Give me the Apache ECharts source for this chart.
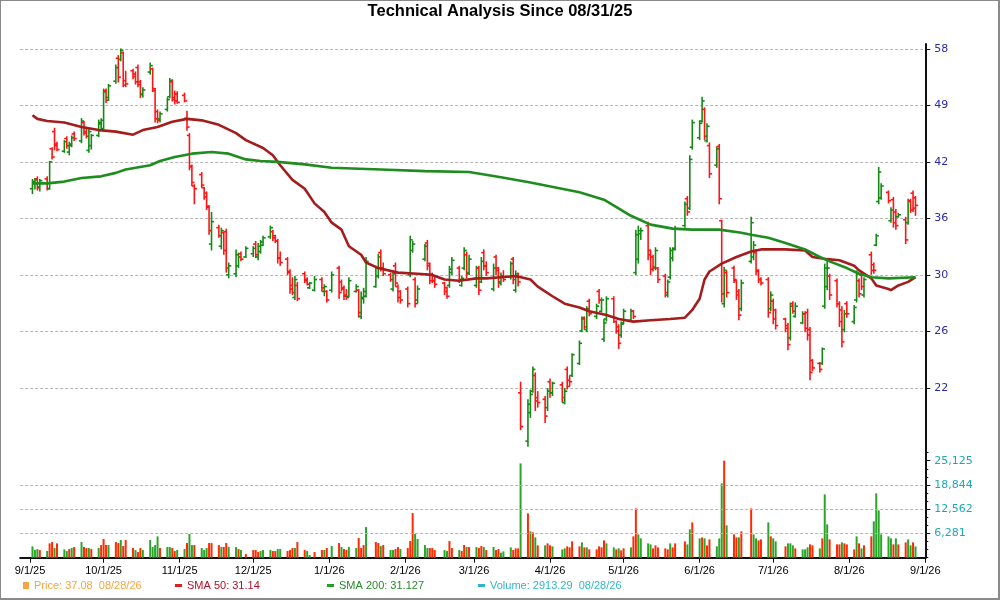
<!DOCTYPE html>
<html><head><meta charset="utf-8">
<script src="https://cdn.jsdelivr.net/npm/echarts@6/dist/echarts.min.js"></script>
<style>html,body{margin:0;padding:0;background:#fff}#c{width:1000px;height:600px}</style>
</head><body><div id="c"></div>
<script>
// ---------- data ----------
const dates = [
'2025-09-02','2025-09-03','2025-09-04','2025-09-05','2025-09-08','2025-09-09','2025-09-10','2025-09-11','2025-09-12','2025-09-15','2025-09-16','2025-09-17','2025-09-18','2025-09-19','2025-09-22','2025-09-23','2025-09-24','2025-09-25','2025-09-26','2025-09-29','2025-09-30',
'2025-10-01','2025-10-02','2025-10-03','2025-10-06','2025-10-07','2025-10-08','2025-10-09','2025-10-10','2025-10-13','2025-10-14','2025-10-15','2025-10-16','2025-10-17','2025-10-20','2025-10-21','2025-10-22','2025-10-23','2025-10-24','2025-10-27','2025-10-28','2025-10-29','2025-10-30','2025-10-31',
'2025-11-03','2025-11-04','2025-11-05','2025-11-06','2025-11-07','2025-11-10','2025-11-11','2025-11-12','2025-11-13','2025-11-14','2025-11-17','2025-11-18','2025-11-19','2025-11-20','2025-11-21','2025-11-24','2025-11-25','2025-11-26','2025-11-28',
'2025-12-01','2025-12-02','2025-12-03','2025-12-04','2025-12-05','2025-12-08','2025-12-09','2025-12-10','2025-12-11','2025-12-12','2025-12-15','2025-12-16','2025-12-17','2025-12-18','2025-12-19','2025-12-22','2025-12-23','2025-12-24','2025-12-26','2025-12-29','2025-12-30','2025-12-31',
'2026-01-02','2026-01-05','2026-01-06','2026-01-07','2026-01-08','2026-01-09','2026-01-12','2026-01-13','2026-01-14','2026-01-15','2026-01-16','2026-01-20','2026-01-21','2026-01-22','2026-01-23','2026-01-26','2026-01-27','2026-01-28','2026-01-29','2026-01-30',
'2026-02-02','2026-02-03','2026-02-04','2026-02-05','2026-02-06','2026-02-09','2026-02-10','2026-02-11','2026-02-12','2026-02-13','2026-02-17','2026-02-18','2026-02-19','2026-02-20','2026-02-23','2026-02-24','2026-02-25','2026-02-26','2026-02-27',
'2026-03-02','2026-03-03','2026-03-04','2026-03-05','2026-03-06','2026-03-09','2026-03-10','2026-03-11','2026-03-12','2026-03-13','2026-03-16','2026-03-17','2026-03-18','2026-03-19','2026-03-20','2026-03-23','2026-03-24','2026-03-25','2026-03-26','2026-03-27','2026-03-30','2026-03-31',
'2026-04-01','2026-04-02','2026-04-06','2026-04-07','2026-04-08','2026-04-09','2026-04-10','2026-04-13','2026-04-14','2026-04-15','2026-04-16','2026-04-17','2026-04-20','2026-04-21','2026-04-22','2026-04-23','2026-04-24','2026-04-27','2026-04-28','2026-04-29','2026-04-30',
'2026-05-01','2026-05-04','2026-05-05','2026-05-06','2026-05-07','2026-05-08','2026-05-11','2026-05-12','2026-05-13','2026-05-14','2026-05-15','2026-05-18','2026-05-19','2026-05-20','2026-05-21','2026-05-22','2026-05-26','2026-05-27','2026-05-28','2026-05-29',
'2026-06-01','2026-06-02','2026-06-03','2026-06-04','2026-06-05','2026-06-08','2026-06-09','2026-06-10','2026-06-11','2026-06-12','2026-06-15','2026-06-16','2026-06-17','2026-06-18','2026-06-22','2026-06-23','2026-06-24','2026-06-25','2026-06-26','2026-06-29','2026-06-30',
'2026-07-01','2026-07-02','2026-07-06','2026-07-07','2026-07-08','2026-07-09','2026-07-10','2026-07-13','2026-07-14','2026-07-15','2026-07-16','2026-07-17','2026-07-20','2026-07-21','2026-07-22','2026-07-23','2026-07-24','2026-07-27','2026-07-28','2026-07-29','2026-07-30','2026-07-31',
'2026-08-03','2026-08-04','2026-08-05','2026-08-06','2026-08-07','2026-08-10','2026-08-11','2026-08-12','2026-08-13','2026-08-14','2026-08-17','2026-08-18','2026-08-19','2026-08-20','2026-08-21','2026-08-24','2026-08-25','2026-08-26','2026-08-27','2026-08-28'
];

// [open, high, low, close]
const ohlc = [
[38.9,40.0,38.3,39.7],[39.5,40.1,38.8,39.9],[40.0,40.3,38.7,39.0],[39.1,40.0,38.6,39.8],[40.0,40.3,38.7,38.9],[38.9,42.1,38.8,42.0],[43.6,43.8,42.3,42.6],[45.8,46.3,43.4,44.0],[44.2,44.5,43.3,43.5],[43.3,44.7,43.1,44.5],[44.9,45.2,43.6,44.0],[43.2,44.5,42.8,44.2],[44.0,45.3,43.8,45.0],[45.5,45.8,44.6,44.9],[44.6,47.6,44.3,47.2],[47.0,47.2,45.3,45.6],[45.8,46.2,44.9,45.2],[43.4,46.2,43.1,45.8],[44.0,45.5,43.5,45.3],[45.3,47.4,45.1,47.0],[46.8,47.6,46.0,47.3],
[46.2,51.8,45.9,51.3],[51.5,51.8,49.7,50.1],[50.5,52.5,50.0,52.2],[52.9,55.5,52.5,55.0],[56.5,57.0,52.7,53.5],[56.3,58.1,56.0,57.8],[57.4,57.6,52.0,52.3],[53.0,54.5,52.0,52.5],[54.5,54.8,53.2,53.6],[54.0,54.4,52.4,52.8],[55.0,55.5,52.0,52.4],[52.8,53.1,50.4,50.9],[51.0,52.0,50.5,51.6],[54.3,55.8,53.9,55.3],[54.8,55.0,51.3,51.8],[51.5,51.9,47.0,47.5],[48.5,48.8,46.9,47.3],[47.5,48.5,47.0,48.2],[48.8,50.5,48.5,50.2],[50.6,53.4,50.4,53.0],[52.8,53.2,49.9,50.2],[50.5,51.5,49.5,50.0],[51.0,51.4,49.6,49.8],
[50.8,51.2,49.8,50.0],[47.6,48.6,45.9,46.4],[45.3,45.6,41.0,41.5],[41.4,41.7,39.2,39.6],[39.2,39.4,37.2,38.9],[40.5,40.8,39.0,39.3],[39.0,39.1,37.7,38.0],[38.4,38.6,36.6,37.0],[36.9,37.1,34.1,34.5],[33.2,36.4,32.6,35.4],[34.8,35.1,33.8,34.0],[33.0,34.8,32.7,34.5],[34.3,34.4,32.2,32.6],[34.4,34.7,30.6,31.0],[30.4,31.5,30.1,31.2],[30.5,32.7,30.2,32.2],[31.2,32.4,31.0,32.0],[32.3,32.5,31.6,31.8],[32.0,33.0,31.9,32.8],
[32.3,33.0,32.0,32.8],[33.2,33.5,31.9,32.2],[32.0,33.3,31.7,33.0],[32.5,33.6,32.3,33.4],[33.1,34.0,33.0,33.8],[33.9,35.0,33.7,34.8],[34.4,34.6,33.5,33.8],[34.0,34.1,33.3,33.5],[33.5,33.7,31.4,31.9],[31.9,32.5,31.2,31.5],[31.8,32.0,30.4,30.6],[30.7,30.9,28.8,29.2],[29.5,30.2,28.7,28.9],[28.5,30.3,28.3,30.0],[29.5,29.8,28.2,28.4],[30.5,30.7,29.7,29.9],[30.0,30.2,29.5,29.6],[29.3,29.8,29.2,29.7],[29.1,30.3,29.0,30.0],[30.0,30.2,29.0,29.3],[29.0,29.6,28.6,29.4],[29.0,29.1,28.1,28.3],
[29.1,30.7,28.9,30.4],[31.0,31.2,28.4,28.9],[29.8,30.0,29.0,29.2],[29.3,29.5,28.3,28.6],[28.7,29.2,28.3,28.5],[28.6,30.2,28.5,29.9],[29.0,29.6,28.9,29.4],[29.1,29.2,26.9,27.3],[27.0,29.0,26.8,28.5],[28.4,29.3,28.0,29.0],[28.6,32.0,28.5,31.6],[29.4,31.2,29.3,31.0],[30.3,32.3,30.1,32.0],[32.4,32.7,30.7,31.0],[31.0,31.5,30.3,30.5],[30.4,30.6,29.8,30.0],[29.2,30.8,29.0,30.5],[31.2,31.5,29.4,29.7],[29.4,29.6,28.1,28.5],[29.0,29.1,28.0,28.3],
[29.2,29.4,27.7,28.0],[30.4,34.0,30.2,33.6],[32.6,33.5,32.4,33.2],[30.0,30.2,27.7,28.0],[28.3,29.5,28.0,29.2],[31.8,33.2,31.6,33.0],[33.3,33.6,30.8,31.2],[31.4,31.5,29.6,29.9],[30.4,30.6,29.7,29.9],[29.9,30.3,29.3,29.6],[29.7,29.8,28.7,29.0],[29.3,29.4,28.4,28.6],[29.5,31.2,29.3,30.9],[30.6,32.0,30.4,31.7],[31.0,31.2,29.7,30.0],[29.5,30.3,29.4,30.1],[31.0,32.9,30.8,32.6],[32.2,32.5,30.1,30.5],[30.6,32.2,30.4,31.8],
[29.5,31.2,29.3,31.0],[31.0,31.2,28.7,29.1],[29.8,32.0,29.7,31.6],[32.4,32.7,30.8,31.2],[31.2,31.6,30.3,30.6],[29.2,31.4,29.0,31.0],[32.0,32.2,30.4,30.8],[31.0,31.1,29.3,29.7],[29.8,30.6,29.5,30.3],[30.3,30.8,29.8,30.0],[30.2,31.6,30.0,31.4],[31.8,32.0,29.6,30.0],[29.1,30.8,28.9,30.5],[30.2,30.6,29.4,29.8],[21.7,22.4,19.5,19.7],[18.9,21.3,18.6,21.0],[20.5,21.9,20.2,21.6],[21.8,23.4,21.7,23.2],[22.8,23.0,20.6,21.2],[21.4,21.8,20.8,21.1],[21.3,21.5,19.9,20.3],[20.8,22.0,20.6,21.8],
[22.4,22.6,21.4,21.7],[21.7,22.4,21.5,22.3],[22.2,22.4,21.1,21.4],[21.1,22.0,21.0,21.8],[23.2,23.4,21.9,22.1],[22.5,22.8,22.1,22.4],[22.8,24.3,22.7,24.2],[23.6,25.2,23.5,25.0],[25.9,27.0,25.8,26.8],[26.9,27.0,26.0,26.2],[26.0,27.8,25.8,27.6],[28.2,28.4,27.0,27.2],[27.0,28.0,26.8,27.8],[29.0,29.2,28.0,28.3],[27.4,28.5,27.3,28.3],[25.3,26.8,25.1,26.5],[26.8,28.6,26.6,28.4],[28.4,28.6,26.5,26.9],[26.6,26.7,25.7,25.9],[26.2,26.4,24.6,25.0],[25.6,26.6,25.4,26.4],
[26.5,27.6,26.4,27.4],[26.7,27.6,26.6,27.4],[27.4,27.5,26.8,27.0],[30.6,34.6,30.4,34.1],[31.8,35.0,31.4,34.5],[34.2,34.8,33.6,34.5],[35.0,35.4,31.7,32.2],[32.6,32.7,30.4,30.9],[32.0,32.2,30.7,31.1],[31.0,32.9,30.8,32.6],[31.0,31.1,29.7,30.0],[30.3,30.5,28.5,28.9],[28.7,30.0,28.5,29.8],[30.2,32.9,30.0,32.6],[31.9,32.9,31.6,32.7],[32.8,35.0,32.6,34.7],[35.0,37.5,34.8,37.2],[37.8,38.1,36.0,36.4],[36.8,42.8,36.6,42.3],[43.8,47.4,43.5,47.0],
[45.0,47.3,44.7,46.9],[47.2,50.6,47.0,50.0],[48.8,49.1,44.7,45.2],[44.6,46.9,44.4,46.5],[44.0,44.4,40.1,40.6],[41.6,43.9,41.3,43.6],[43.9,44.2,37.2,37.8],[35.5,35.6,28.1,28.8],[28.0,31.1,27.7,30.8],[30.6,30.8,28.5,28.9],[31.0,31.2,29.7,30.0],[29.9,30.0,28.3,28.7],[29.0,29.2,26.7,27.1],[27.6,30.0,27.4,29.7],[31.6,35.9,31.4,35.3],[32.0,33.5,31.7,33.1],[32.4,32.7,30.4,30.8],[30.7,30.9,29.7,30.0],[30.0,30.2,29.5,29.7],[30.0,30.2,26.9,27.3],[27.6,29.0,27.4,28.7],
[28.2,28.4,26.4,26.8],[27.5,27.6,26.0,26.3],[26.8,26.9,25.8,26.1],[26.3,26.5,24.5,24.9],[25.4,28.1,25.2,27.8],[28.0,28.2,27.2,27.4],[27.0,28.1,26.9,27.8],[26.5,27.4,26.4,27.2],[27.2,27.4,25.8,26.1],[27.3,27.6,25.2,25.6],[26.0,26.2,22.5,23.0],[23.8,23.9,23.1,23.3],[23.6,23.7,23.0,23.2],[23.6,24.7,23.5,24.6],[27.8,31.4,27.6,31.0],[29.4,31.6,29.1,31.0],[30.3,30.5,28.3,28.7],[29.9,30.1,27.7,28.0],[28.0,28.2,26.2,26.6],[27.5,27.8,24.7,25.1],[26.0,27.5,25.8,27.2],[28.0,28.2,26.9,27.2],
[26.6,27.9,26.4,27.7],[28.3,30.8,28.1,30.5],[29.9,30.1,28.5,28.8],[30.4,30.7,29.1,29.4],[28.7,30.2,28.5,30.0],[32.2,32.5,30.4,30.8],[31.3,31.5,30.5,30.8],[33.1,34.2,33.0,34.0],[37.5,41.4,37.2,40.8],[37.9,39.5,37.7,39.2],[38.5,38.7,37.3,37.6],[35.5,36.9,35.3,36.6],[37.7,38.0,34.8,35.3],[36.4,36.7,34.6,35.0],[35.9,36.3,35.8,36.1],[35.6,35.9,33.2,33.6],[35.3,37.8,35.1,37.5],[37.6,37.8,36.3,36.6],[38.4,38.7,36.4,36.8],[37.9,38.1,36.0,37.08]
];

const volumes = [
2935,1985,2244,1985,1726,3711,4056,2503,3711,2158,1726,2244,2503,2762,4056,2762,2503,2503,2244,2503,3280,
4834,3280,3280,4056,3797,4575,3020,4575,2503,1985,1467,2503,1985,4575,2762,3280,5525,2503,2762,2762,2503,1726,1985,
2244,3797,6129,3280,3280,2503,1985,2503,3797,3797,3280,2762,2762,3797,2762,2762,2244,1985,949,
1985,1985,1467,1726,1985,1985,1726,1726,2244,2244,1726,1985,2503,2503,4056,1985,1726,690,1467,1985,1985,2503,
3020,3797,2762,2244,1985,2762,2503,5092,2503,3280,7940,4056,3797,3020,3280,1985,1985,2244,2762,2244,
2503,4315,11565,6129,4834,3280,2503,2503,2503,1985,1985,1726,4315,2503,1985,1726,3280,2762,2762,
2762,2503,3020,2762,1985,2762,1985,2244,1295,1640,2675,1985,2416,2416,24423,11478,6818,6559,5264,3193,3193,3711,
3193,2934,2158,2416,2934,2675,4229,2934,3970,2675,2675,2158,2158,2934,2675,4488,3711,2675,2158,2416,1899,
2416,2675,5523,12772,6041,5005,3711,3452,2416,3193,2675,2416,2158,3711,2675,3711,4229,3452,7336,9148,
5005,5264,5005,3193,4746,2934,5005,19245,25125,8371,6041,5264,5264,6818,12772,6041,5005,4488,4746,9148,5523,
5005,4229,2934,3711,3711,3193,2416,2158,2158,2675,3452,3193,2416,5005,16397,8630,4746,3452,3452,3970,3711,3452,
2158,5523,3711,2416,3193,5523,9407,16656,12255,6041,5523,5005,3452,5005,3452,3970,4746,3193,3970,2913
];

// g = up-volume bar, r = down-volume bar (one char per trading day, one string per month)
const volumeDirection = [
'gggrgrrgrggrgrgrrgrgr',
'rrgrrgrrrgrrgggggrggrrg',
'grggrgggrrrgrrggrgr',
'rrrgggrrggrrrgrrggrrgr',
'grgrrggrrrgrrgrggrrg',
'rrrggggrrrggrrgrrgr',
'grrgrgrrgggrrrgrgrgrgr',
'rgggrrrrgrgrrrrrggrgr',
'rgrrggggrrrrrgrrrggr',
'grgrrgggrgrrgrrggrrgr',
'ggrgggrgggrrgrggrrrgrr',
'rgrgrrggggggrgrrggrg'
].join('');

const sma50 = [
['2025-09-02',48.0],['2025-09-04',47.5],['2025-09-08',47.2],['2025-09-15',47.0],['2025-09-22',46.4],['2025-09-29',46.0],['2025-10-06',45.8],['2025-10-13',45.4],['2025-10-17',46.0],['2025-10-23',46.4],['2025-10-29',47.1],['2025-11-04',47.5],['2025-11-10',47.3],['2025-11-17',46.7],['2025-11-24',45.6],['2025-11-28',44.7],['2025-12-05',43.7],['2025-12-09',42.8],['2025-12-12',41.6],['2025-12-17',39.9],['2025-12-22',38.9],['2025-12-26',37.3],['2025-12-30',36.4],['2026-01-02',35.3],['2026-01-06',34.6],['2026-01-09',33.0],['2026-01-14',32.2],['2026-01-16',31.5],['2026-01-21',31.0],['2026-01-29',30.6],['2026-02-06',30.5],['2026-02-12',30.4],['2026-02-17',30.0],['2026-02-23',29.9],['2026-03-02',30.1],['2026-03-06',30.1],['2026-03-12',30.2],['2026-03-18',30.3],['2026-03-24',30.0],['2026-03-27',29.4],['2026-04-02',28.6],['2026-04-07',28.0],['2026-04-13',27.7],['2026-04-17',27.4],['2026-04-24',27.1],['2026-04-29',26.8],['2026-05-05',26.6],['2026-05-12',26.7],['2026-05-20',26.8],['2026-05-26',26.9],['2026-05-29',27.5],['2026-06-01',28.4],['2026-06-03',30.0],['2026-06-05',30.7],['2026-06-10',31.4],['2026-06-16',32.0],['2026-06-22',32.5],['2026-06-26',32.7],['2026-07-06',32.7],['2026-07-14',32.6],['2026-07-17',32.0],['2026-07-23',31.8],['2026-07-28',31.7],['2026-08-03',31.2],['2026-08-05',30.8],['2026-08-10',30.1],['2026-08-12',29.5],['2026-08-17',29.2],['2026-08-18',29.1],['2026-08-21',29.5],['2026-08-25',29.8],['2026-08-28',30.2]
];

const sma200 = [
['2025-09-02',39.5],['2025-09-08',39.5],['2025-09-15',39.7],['2025-09-22',40.1],['2025-09-30',40.3],['2025-10-06',40.7],['2025-10-10',41.1],['2025-10-20',41.6],['2025-10-24',42.1],['2025-10-30',42.6],['2025-11-06',43.0],['2025-11-14',43.2],['2025-11-21',43.0],['2025-11-28',42.3],['2025-12-04',42.1],['2025-12-11',42.0],['2025-12-22',41.7],['2026-01-02',41.3],['2026-01-22',41.1],['2026-02-09',40.9],['2026-02-27',40.8],['2026-03-12',40.2],['2026-03-24',39.6],['2026-04-13',38.5],['2026-04-23',37.7],['2026-05-04',36.0],['2026-05-12',35.1],['2026-05-21',34.7],['2026-05-29',34.6],['2026-06-09',34.6],['2026-06-18',34.3],['2026-06-22',34.1],['2026-06-29',33.8],['2026-07-06',33.3],['2026-07-10',33.0],['2026-07-14',32.7],['2026-07-20',32.0],['2026-07-24',31.6],['2026-07-31',31.0],['2026-08-05',30.5],['2026-08-10',30.2],['2026-08-17',30.1],['2026-08-28',30.2]
];

const priceTicks = [22, 25.86, 30.39, 35.72, 41.99, 49.35, 58];
const volumeTicks = [6281, 12562, 18844, 25125];
const monthTicks = ['2025-09-01','2025-10-01','2025-11-01','2025-12-01','2026-01-01','2026-02-01','2026-03-01','2026-04-01','2026-05-01','2026-06-01','2026-07-01','2026-08-01','2026-09-01'];
const legendNames = ['Price: 37.08  08/28/26', 'SMA 50: 31.14', 'SMA 200: 31.127', 'Volume: 2913.29  08/28/26'];

// ---------- chart ----------
function toTime(s) { const p = s.split('-').map(Number); return Date.UTC(p[0], p[1] - 1, p[2]); }
const xMin = toTime('2025-08-28'), xMax = toTime('2026-09-01');
const UP = '#148a14', DOWN = '#ff1414', VUP = '#2aa52a', VDOWN = '#ff2a00';
const n = Math.min(dates.length, ohlc.length);
const priceData = [];
for (let i = 0; i < n; i++) priceData.push([toTime(dates[i])].concat(ohlc[i]));
const volData = [];
for (let i = 0; i < Math.min(dates.length, volumes.length); i++) {
  volData.push({ value: [toTime(dates[i]), volumes[i]], itemStyle: { color: volumeDirection[i] === 'g' ? VUP : VDOWN } });
}
const monthTimes = monthTicks.map(toTime);
const grid = '#b4b4b4';
const chart = echarts.init(document.getElementById('c'), null, { renderer: 'canvas' });
function legendOf(i, left, color, iconColor, w, h) {
  return { data: [{ name: legendNames[i], icon: 'rect', itemStyle: { color: iconColor } }], left: left, top: 580, padding: 0,
    itemWidth: w, itemHeight: h, selectedMode: false,
    textStyle: { color: color, fontFamily: 'Liberation Sans', fontSize: 11 } };
}
chart.setOption({
  animation: false,
  backgroundColor: '#fff',
  title: { text: 'Technical Analysis Since 08/31/25', left: 'center', top: 3, padding: 0,
    textStyle: { fontFamily: 'Liberation Sans', fontWeight: 'bold', fontSize: 16.5, color: '#000' } },
  graphic: [{ type: 'rect', shape: { x: 0, y: 0, width: 999, height: 599 }, style: { fill: 'none', stroke: '#8a8a8a', lineWidth: 2 }, silent: true, z: 100 }],
  legend: [
    legendOf(0, 23, '#f5a542', '#f5a542', 6, 7),
    legendOf(1, 175, '#b0102a', '#e02020', 7, 3),
    legendOf(2, 327, '#2a8a2a', '#22a022', 7, 3),
    legendOf(3, 478, '#30b4c8', '#30b4c8', 7, 3)
  ],
  grid: [
    { left: 20.2, right: 74.7, top: 44, height: 408 },
    { left: 20.2, right: 74.7, top: 452, height: 105.7 }
  ],
  xAxis: [
    { type: 'value', gridIndex: 0, min: xMin, max: xMax, show: false, splitLine: { show: false } },
    { type: 'value', gridIndex: 1, min: xMin, max: xMax,
      axisLine: { show: true, onZero: false, lineStyle: { color: '#111', width: 2 } },
      axisTick: { show: true, customValues: monthTimes, length: 5, lineStyle: { color: '#111', width: 1 } },
      axisLabel: { show: true, customValues: monthTimes, margin: 8, color: '#000', fontFamily: 'Liberation Sans', fontSize: 11,
        formatter: function (v) { const d = new Date(v); return (d.getUTCMonth() + 1) + '/' + d.getUTCDate() + '/' + String(d.getUTCFullYear()).slice(2); } },
      splitLine: { show: false } }
  ],
  yAxis: [
    { type: 'log', gridIndex: 0, position: 'right', min: 18.32, max: 58.84,
      axisLine: { show: true, onZero: false, lineStyle: { color: '#111', width: 2 } },
      axisTick: { show: true, customValues: priceTicks, length: 5, lineStyle: { color: '#111' } },
      axisLabel: { show: true, customValues: priceTicks, margin: 9, color: '#2a2aaa', fontFamily: 'DejaVu Sans', fontSize: 11,
        formatter: function (v) { return String(Math.round(v)); } },
      splitLine: { show: true, lineStyle: { color: grid, width: 1, type: [3, 2] } },
      minorTick: { show: false }, minorSplitLine: { show: false } },
    { type: 'value', gridIndex: 1, position: 'right', min: 0, max: 27378,
      axisLine: { show: true, onZero: false, lineStyle: { color: '#111', width: 2 } },
      axisTick: { show: true, customValues: volumeTicks, length: 5, lineStyle: { color: '#111' } },
      axisLabel: { show: true, customValues: volumeTicks, margin: 9, color: '#1ea8b8', fontFamily: 'DejaVu Sans', fontSize: 11,
        formatter: function (v) { return Math.round(v).toLocaleString('en-US'); } },
      splitLine: { show: false } },
    { type: 'value', gridIndex: 1, position: 'right', min: 0, max: 27378, interval: 2093.75,
      axisLine: { show: false }, axisTick: { show: true, length: 3, lineStyle: { color: '#111' } },
      axisLabel: { show: false }, splitLine: { show: false } }
  ],
  series: [
    { type: 'custom', name: legendNames[0], xAxisIndex: 0, yAxisIndex: 0, data: priceData,
      encode: { x: 0, y: [1, 2, 3, 4] }, itemStyle: { color: '#f5a542' }, z: 3,
      renderItem: function (params, api) {
        const t = api.value(0), o = api.value(1), h = api.value(2), l = api.value(3), c = api.value(4);
        const pH = api.coord([t, h]), pL = api.coord([t, l]), pO = api.coord([t, o]), pC = api.coord([t, c]);
        const x = pH[0];
        const col = c >= o ? UP : DOWN;
        const st = { stroke: col, lineWidth: 1.6 };
        return { type: 'group', children: [
          { type: 'line', shape: { x1: x, y1: pH[1], x2: x, y2: pL[1] }, style: st },
          { type: 'line', shape: { x1: x - 2.6, y1: pO[1], x2: x, y2: pO[1] }, style: st },
          { type: 'line', shape: { x1: x, y1: pC[1], x2: x + 2.6, y2: pC[1] }, style: st }
        ] };
      } },
    { type: 'line', name: legendNames[1], xAxisIndex: 0, yAxisIndex: 0, z: 4,
      data: sma50.map(function (p) { return [toTime(p[0]), p[1]]; }),
      showSymbol: false, symbol: 'none', itemStyle: { color: '#a51c1c' }, lineStyle: { color: '#a51c1c', width: 2.6 } },
    { type: 'line', name: legendNames[2], xAxisIndex: 0, yAxisIndex: 0, z: 4,
      data: sma200.map(function (p) { return [toTime(p[0]), p[1]]; }),
      showSymbol: false, symbol: 'none', itemStyle: { color: '#1e8c1e' }, lineStyle: { color: '#1e8c1e', width: 2.6 } },
    { type: 'bar', name: legendNames[3], xAxisIndex: 1, yAxisIndex: 1, data: volData, barWidth: 2,
      itemStyle: { color: '#30b4c8' },
      markLine: { silent: true, symbol: 'none', label: { show: false },
        lineStyle: { color: grid, width: 1, type: [3, 2] },
        data: volumeTicks.slice(0, 3).map(function (v) { return { yAxis: v }; }) } }
  ]
});
</script>
</body></html>
